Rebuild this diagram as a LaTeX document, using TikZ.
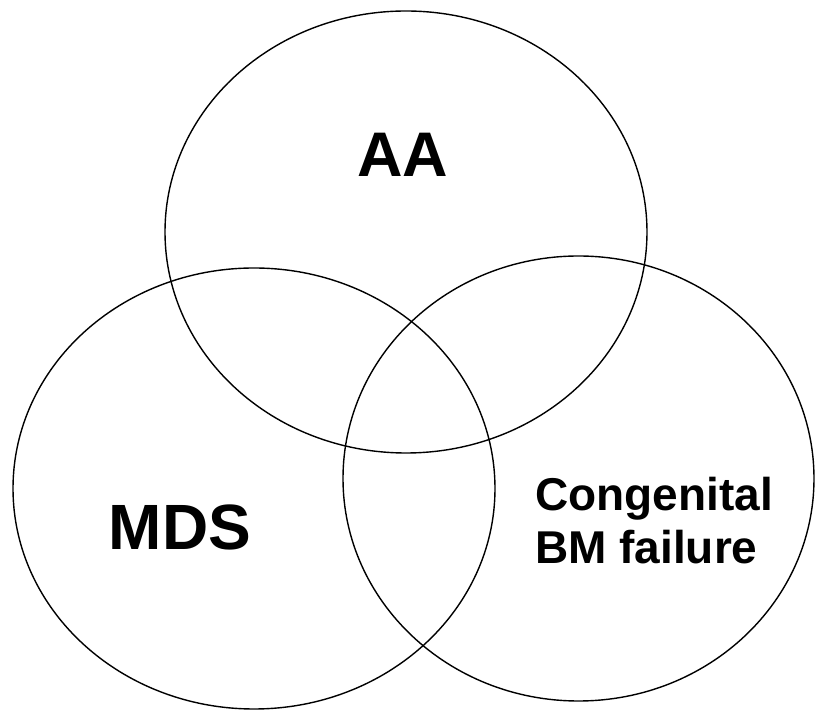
\documentclass[tikz,border=0pt]{standalone}
\usepackage{fontspec}
\setmainfont{Liberation Sans}
\begin{document}
\begin{tikzpicture}[x=1pt,y=1pt,
  setc/.style={draw=black,line width=1.4pt},
  lbl/.style={font=\bfseries,inner sep=0pt}]
\useasboundingbox (0,0) rectangle (815,712);
\draw[setc] (406,480) ellipse [x radius=241, y radius=221];
\draw[setc] (254,223.5) ellipse [x radius=241, y radius=220.5];
\draw[setc] (578.5,233.5) ellipse [x radius=235.5, y radius=222.5];
\node[lbl,font=\fontsize{63}{72}\selectfont\bfseries] (aa) at (403,557) {AA};
\node[lbl,font=\fontsize{64}{72}\selectfont\bfseries] (mds) at (180,185) {MDS};
\node[lbl,font=\fontsize{46}{53}\selectfont\bfseries,align=left,anchor=west] (cbm) at (535,191) {Congenital\\BM failure};
\end{tikzpicture}
\end{document}
